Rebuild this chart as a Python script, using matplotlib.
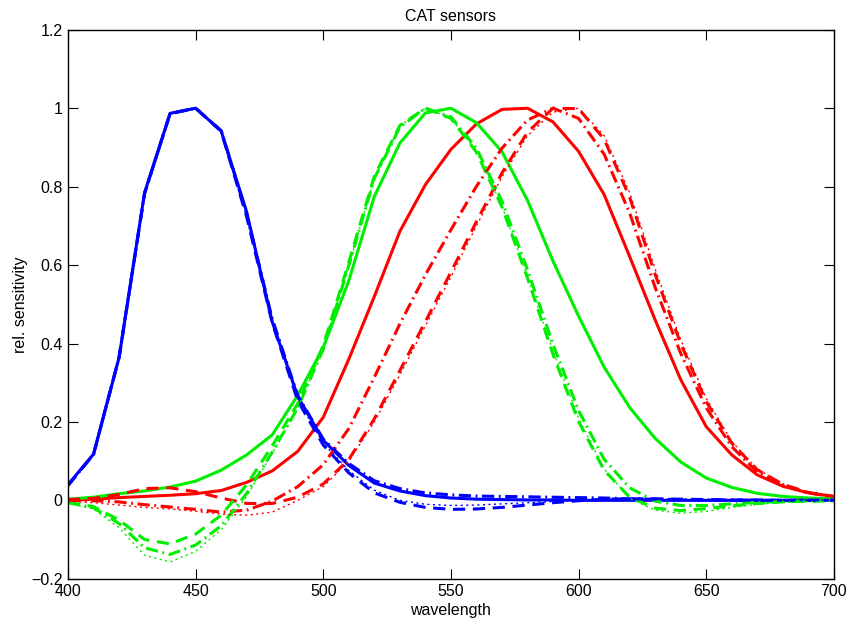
import matplotlib
matplotlib.use("Agg")
import matplotlib.pyplot as plt

plt.rcParams['font.family'] = ['Liberation Sans', 'DejaVu Sans']

wl = list(range(400, 701, 10))

# von Kries / Hunt-Pointer-Estevez (solid)
hpe_r = [0.000, 0.003, 0.007, 0.010, 0.013, 0.017, 0.025, 0.046, 0.075, 0.125,
         0.212, 0.360, 0.520, 0.686, 0.805, 0.895, 0.960, 0.997, 1.000, 0.965,
         0.890, 0.780, 0.622, 0.460, 0.308, 0.188, 0.116, 0.065, 0.036, 0.019,
         0.010]
hpe_g = [0.003, 0.008, 0.017, 0.024, 0.034, 0.049, 0.077, 0.116, 0.167, 0.268,
         0.390, 0.560, 0.775, 0.911, 0.988, 1.000, 0.963, 0.889, 0.765, 0.610,
         0.470, 0.340, 0.237, 0.158, 0.098, 0.057, 0.033, 0.018, 0.010, 0.006,
         0.004]
hpe_b = [0.040, 0.118, 0.364, 0.785, 0.987, 1.000, 0.942, 0.735, 0.455, 0.265,
         0.153, 0.089, 0.044, 0.024, 0.012, 0.006, 0.003, 0.002, 0.001, 0.001,
         0.000, 0.000, 0.000, 0.000, 0.000, 0.000, 0.000, 0.000, 0.000, 0.000,
         0.000]

# Bradford (dashed)
brad_r = [0.002, 0.005, 0.015, 0.030, 0.032, 0.022, 0.006, -0.008, -0.008, 0.008,
          0.042, 0.104, 0.208, 0.331, 0.456, 0.582, 0.711, 0.835, 0.939, 1.000,
          0.999, 0.921, 0.773, 0.576, 0.400, 0.252, 0.146, 0.078, 0.041, 0.020,
          0.010]
brad_g = [-0.005, -0.016, -0.050, -0.100, -0.111, -0.086, -0.038, 0.040, 0.139, 0.247,
          0.395, 0.607, 0.827, 0.956, 1.000, 0.974, 0.888, 0.748, 0.567, 0.372,
          0.201, 0.077, 0.008, -0.020, -0.026, -0.021, -0.014, -0.008, -0.004, -0.002,
          -0.001]
brad_b = [0.038, 0.117, 0.365, 0.783, 0.987, 1.000, 0.941, 0.723, 0.453, 0.254,
          0.141, 0.070, 0.019, -0.005, -0.018, -0.023, -0.022, -0.018, -0.012, -0.006,
          -0.001, 0.003, 0.004, 0.004, 0.003, 0.002, 0.001, 0.001, 0.000, 0.000,
          0.000]

# CAT02 (dash-dot)
cat02_r = [0.000, -0.001, -0.004, -0.011, -0.017, -0.023, -0.030, -0.025, -0.002, 0.035,
           0.091, 0.183, 0.314, 0.450, 0.575, 0.690, 0.801, 0.898, 0.970, 1.000,
           0.974, 0.883, 0.733, 0.543, 0.375, 0.236, 0.137, 0.072, 0.039, 0.019,
           0.009]
cat02_g = [-0.006, -0.019, -0.059, -0.121, -0.138, -0.114, -0.065, 0.018, 0.123, 0.236,
           0.386, 0.599, 0.821, 0.952, 1.000, 0.978, 0.898, 0.763, 0.588, 0.398,
           0.229, 0.105, 0.032, -0.002, -0.013, -0.013, -0.009, -0.005, -0.003, -0.001,
           -0.001]
cat02_b = [0.038, 0.117, 0.364, 0.782, 0.986, 1.000, 0.943, 0.730, 0.463, 0.267,
           0.156, 0.094, 0.050, 0.030, 0.019, 0.014, 0.011, 0.010, 0.009, 0.008,
           0.007, 0.006, 0.004, 0.003, 0.002, 0.001, 0.001, 0.000, 0.000, 0.000,
           0.000]

# sharpened sensors (dotted)
sharp_r = [-0.002, -0.006, -0.012, -0.018, -0.022, -0.028, -0.035, -0.038, -0.030, 0.000,
           0.035, 0.100, 0.200, 0.320, 0.445, 0.570, 0.700, 0.825, 0.930, 0.990,
           1.000, 0.930, 0.785, 0.590, 0.410, 0.260, 0.150, 0.080, 0.042, 0.020,
           0.010]
sharp_g = [-0.006, -0.022, -0.070, -0.140, -0.157, -0.130, -0.075, 0.010, 0.120, 0.235,
           0.390, 0.600, 0.820, 0.955, 1.000, 0.975, 0.890, 0.750, 0.570, 0.380,
           0.210, 0.080, 0.005, -0.025, -0.033, -0.028, -0.018, -0.010, -0.005, -0.003,
           -0.001]
sharp_b = [0.038, 0.117, 0.365, 0.783, 0.987, 1.000, 0.941, 0.725, 0.455, 0.258,
           0.145, 0.076, 0.026, 0.000, -0.010, -0.013, -0.012, -0.009, -0.006, -0.003,
           0.000, 0.002, 0.003, 0.003, 0.002, 0.001, 0.001, 0.000, 0.000, 0.000,
           0.000]

fig = plt.figure(figsize=(8.5, 6.21), dpi=100)
ax = fig.add_axes([0.080, 0.068, 0.901, 0.884])

ax.plot(wl, hpe_r, color='red', lw=2.2)
ax.plot(wl, hpe_g, color='#00ee00', lw=2.2)
ax.plot(wl, hpe_b, color='blue', lw=2.2)

for r, g, b, ls, lw in [(brad_r, brad_g, brad_b, (0, (4, 2.5)), 2.2),
                        (cat02_r, cat02_g, cat02_b, (0, (4, 1.5, 0.6, 1.5)), 2.2),
                        (sharp_r, sharp_g, sharp_b, (0, (1.5, 2.5)), 1.0)]:
    ax.plot(wl, r, color='red', lw=lw, linestyle=ls)
    ax.plot(wl, g, color='#00ee00', lw=lw, linestyle=ls)
    ax.plot(wl, b, color='blue', lw=lw, linestyle=ls)

ax.set_xlim(400, 700)
ax.set_ylim(-0.2, 1.2)
ax.set_xticks([400, 450, 500, 550, 600, 650, 700])
ax.set_yticks([-0.2, 0, 0.2, 0.4, 0.6, 0.8, 1, 1.2])
ax.set_yticklabels(['\u22120.2', '0', '0.2', '0.4', '0.6', '0.8', '1', '1.2'])
ax.tick_params(direction='in', length=7, width=0.8, top=True, right=True,
               labelsize=11.5, pad=4)
for s in ax.spines.values():
    s.set_linewidth(1.0)

ax.set_title('CAT sensors', fontsize=11.5, pad=6)
ax.set_xlabel('wavelength', fontsize=11.5)
ax.xaxis.set_label_coords(0.5, -0.045)
ax.set_ylabel('rel. sensitivity', fontsize=11.5)
ax.yaxis.set_label_coords(-0.052, 0.5)

fig.savefig('out.png', dpi=100)
